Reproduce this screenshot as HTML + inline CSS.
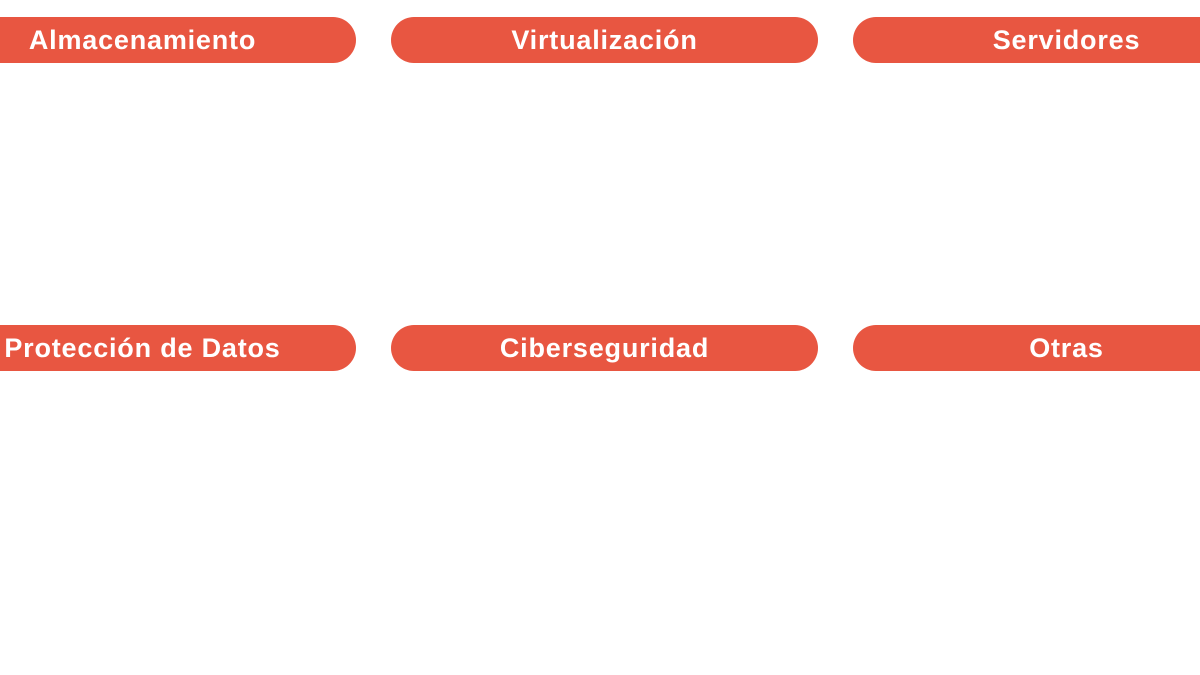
<!DOCTYPE html>
<html><head><meta charset="utf-8"><style>
html,body{margin:0;padding:0;background:#fff;width:1200px;height:675px;overflow:hidden;position:relative}
.p{position:absolute;width:427px;height:46px;border-radius:23px;background:#e85641;color:#fff;
font-family:"Liberation Sans",sans-serif;font-weight:bold;font-size:27px;letter-spacing:0.8px;
display:flex;align-items:center;justify-content:center;line-height:1}
</style></head><body>
<div class="p" style="left:-71px;top:17px">Almacenamiento</div>
<div class="p" style="left:391px;top:17px">Virtualización</div>
<div class="p" style="left:853px;top:17px">Servidores</div>
<div class="p" style="left:-71px;top:325px">Protección de Datos</div>
<div class="p" style="left:391px;top:325px">Ciberseguridad</div>
<div class="p" style="left:853px;top:325px">Otras</div>
</body></html>
